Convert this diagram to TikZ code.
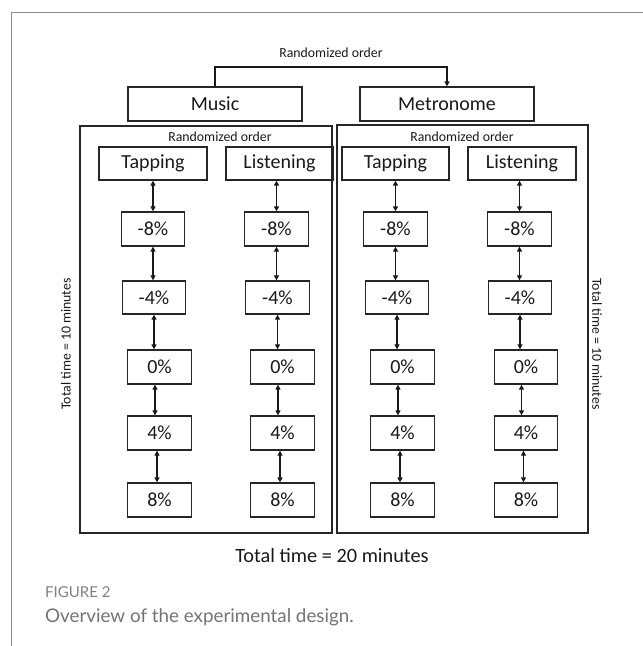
\documentclass[tikz,border=0pt]{standalone}
\usepackage{fontspec}
\setmainfont{Carlito}
\newfontfamily\capfont{Lato}
\usetikzlibrary{arrows.meta,calc}
\begin{document}
\begin{tikzpicture}[x=1pt,y=-1pt,
  box/.style={draw=black!85, line width=1.3pt, minimum height=34pt, inner sep=0pt,
    font=\fontsize{20}{24}\selectfont, anchor=center, text=black!90},
  pbox/.style={box, minimum width=63.5pt},
  outerbox/.style={draw=black!85, line width=1.3pt, inner sep=0pt},
  smalltxt/.style={font=\fontsize{13.8}{16}\selectfont, inner sep=0pt, text=black!90},
  bigtxt/.style={font=\fontsize{20.3}{24}\selectfont, inner sep=0pt, text=black!90},
  dbl/.style={{Triangle[length=5pt,width=5pt]}-{Triangle[length=5pt,width=5pt]}, line width=1.3pt, draw=black!90},
  onearrow/.style={-{Triangle[length=5pt,width=5pt]}, line width=1.3pt, draw=black!90},
  captitle/.style={font=\capfont\fontsize{15}{17}\selectfont, text=black!50, inner sep=0pt, anchor=base west},
  captext/.style={font=\capfont\fontsize{18.8}{21}\selectfont, text=black!55, inner sep=0pt, anchor=base west}
]
\useasboundingbox (0,0) rectangle (643,646);
% frame of the figure panel
\draw[black!45, line width=1pt] (11,646) -- (11,12.5) -- (643,12.5);

% top level
\node[smalltxt] (tro) at (331,53) {Randomized order};
\node[box, minimum width=174pt] (music) at (215,104) {Music};
\node[box, minimum width=174pt] (metro) at (447,104) {Metronome};
\coordinate (bk) at (0,67);
\draw[onearrow] (music.north) -- (music.north |- bk) -| (metro.north);

% outer condition boxes
\node[outerbox, minimum width=252pt, minimum height=407pt] (lbox) at (206,329.5) {};
\node[outerbox, minimum width=251pt, minimum height=408pt] (rbox) at (462.5,329) {};
\node[smalltxt] (lro) at (220,137) {Randomized order};
\node[smalltxt] (rro) at (462,137) {Randomized order};

% task headers
\node[box, minimum width=108pt, minimum height=33pt] (TL0) at (153,163.5) {Tapping};
\node[box, minimum width=107pt, minimum height=33pt] (LL0) at (279.5,163.5) {Listening};
\node[box, minimum width=107pt, minimum height=33pt] (TR0) at (395.5,163.5) {Tapping};
\node[box, minimum width=108pt, minimum height=33pt] (LR0) at (522,163.5) {Listening};

\foreach \c/\xa/\xb/\xc in {TL/153/154/159.5, LL/276.5/277.5/282.5, TR/395.5/397/402.5, LR/519.5/520/526} {
  \node[pbox] (\c1) at (\xa,229) {-8\%};
  \node[pbox, minimum height=33pt] (\c2) at (\xb,297.5) {-4\%};
  \node[pbox] (\c3) at (\xc,367) {0\%};
  \node[pbox] (\c4) at (\xc,433) {4\%};
  \node[pbox] (\c5) at (\xc,500) {8\%};
  \draw[dbl] (\c0.south -| \c1.north) -- (\c1.north);
  \draw[dbl] (\c1.south) -- (\c1.south |- \c2.north);
  \draw[dbl] (\c2.south) -- (\c2.south |- \c3.north);
  \draw[dbl] ([xshift=-4.5pt]\c3.south) -- ([xshift=-4.5pt]\c4.north);
  \draw[dbl] ([xshift=-2.5pt]\c4.south) -- ([xshift=-2.5pt]\c5.north);
}

% side and bottom labels
\node[smalltxt, rotate=90] (ltime) at (66,344) {Total time = 10 minutes};
\node[smalltxt, rotate=-90] (rtime) at (597,344) {Total time = 10 minutes};
\node[bigtxt] (total) at (332,556) {Total time = 20 minutes};

% caption
\node[captitle] (figno) at (45,597) {FIGURE 2};
\node[captext] (figcap) at (45,622) {Overview of the experimental design.};
\end{tikzpicture}
\end{document}
